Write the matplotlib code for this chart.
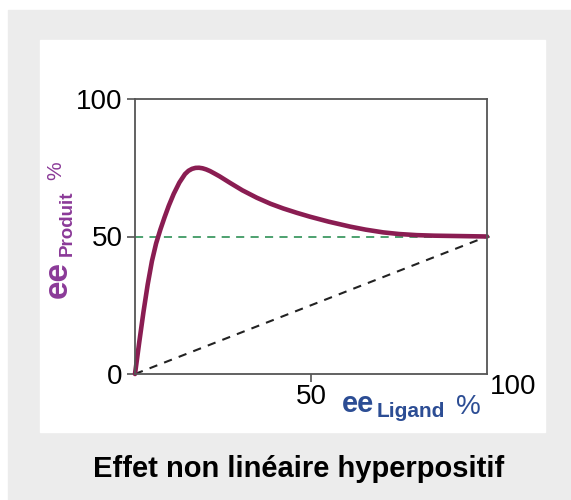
import matplotlib.pyplot as plt
from matplotlib.patches import Rectangle

plt.rcParams['font.family'] = ['Liberation Sans', 'DejaVu Sans']

# values (ee ligand %, ee produit %)
ligand_ee = [0, 1.2, 2.4, 3.6, 4.8, 6.0, 7.2, 8.4, 9.6, 11.0, 12.6, 14.2,
             15.2, 16.2, 17.2, 18.2, 19.2, 20.2, 21.3, 22.6, 24.0, 25.5, 27.0,
             30.5, 34.6, 38.5, 42.1, 46.0, 49.7, 55.0, 61.1, 65.5, 70.5, 75.0,
             80.0, 85.0, 90.0, 95.0, 100]
produit_ee = [0, 11.5, 22.5, 32.5, 41.0, 47.5, 52.5, 57.0, 61.2, 65.5, 69.6, 72.7,
              73.9, 74.6, 74.95, 75.0, 74.8, 74.4, 73.8, 72.9, 71.9, 70.7, 69.5,
              66.8, 64.1, 61.9, 60.2, 58.6, 57.2, 55.4, 53.6, 52.5, 51.5, 50.9,
              50.5, 50.3, 50.2, 50.1, 50]
linear_x = [0, 100]
linear_y = [0, 50]
yticks = [0, 50, 100]
xticks = [50]
title = "Effet non linéaire hyperpositif"

W, H = 571, 500
fig = plt.figure(figsize=(W / 100, H / 100), dpi=100)


def fx(px):
    return px / W


def fy(py):
    return 1 - py / H


# grey frame and white panel (behind the axes)
fig.patches.append(Rectangle((fx(8), 0), fx(W - 8), 1 - 10 / H, transform=fig.transFigure,
                             color='#ececec', zorder=-3))
fig.patches.append(Rectangle((fx(40), fy(432)), fx(505), 392 / H, transform=fig.transFigure,
                             color='white', zorder=-2))

ax = fig.add_axes([fx(135), fy(374), fx(352), 275 / H])
ax.patch.set_alpha(0)
ax.set_xlim(0, 100)
ax.set_ylim(0, 100)
for s in ax.spines.values():
    s.set_color('#555555')
    s.set_linewidth(1.3)

ax.axhline(50, xmax=1.018, color='#3f9a63', lw=1.3, dashes=(4.5, 3.5), clip_on=False)
ax.plot(linear_x, linear_y, color='#222222', lw=1.5, dashes=(4, 3.5))
ax.plot(ligand_ee, produit_ee, color='#8a1d52', lw=3.3,
        solid_joinstyle='round', solid_capstyle='round', clip_on=False)

ax.set_yticks(yticks)
ax.set_xticks(xticks)
ax.tick_params(axis='both', direction='out', length=6, width=1.2, color='#555555',
               labelsize=20, pad=3)
ax.tick_params(axis='x', pad=1)
fig.text(fx(513), fy(387), "100", fontsize=20, ha='center', va='center')

# y label: ee_Produit %
purple = '#8b3a98'
fig.text(fx(67), fy(298), "ee", fontsize=24, fontweight='bold', color=purple,
         rotation=90, rotation_mode='anchor', ha='left', va='baseline')
fig.text(fx(72), fy(256), "Produit", fontsize=13.5, fontweight='bold', color=purple,
         rotation=90, rotation_mode='anchor', ha='left', va='baseline')
fig.text(fx(61), fy(180), "%", fontsize=15, color=purple,
         rotation=90, rotation_mode='anchor', ha='left', va='baseline')

# x label: ee_Ligand %
blue = '#2c4d94'
fig.text(fx(342), fy(412), "ee", fontsize=21, fontweight='bold', color=blue,
         ha='left', va='baseline')
fig.text(fx(377), fy(417), "Ligand", fontsize=15, fontweight='bold', color=blue,
         ha='left', va='baseline')
fig.text(fx(456), fy(414), "%", fontsize=20, color=blue, ha='left', va='baseline')

fig.text(fx(299), fy(469), title, fontsize=21, fontweight='bold', ha='center', va='center')

plt.savefig('out.png', dpi=100)
